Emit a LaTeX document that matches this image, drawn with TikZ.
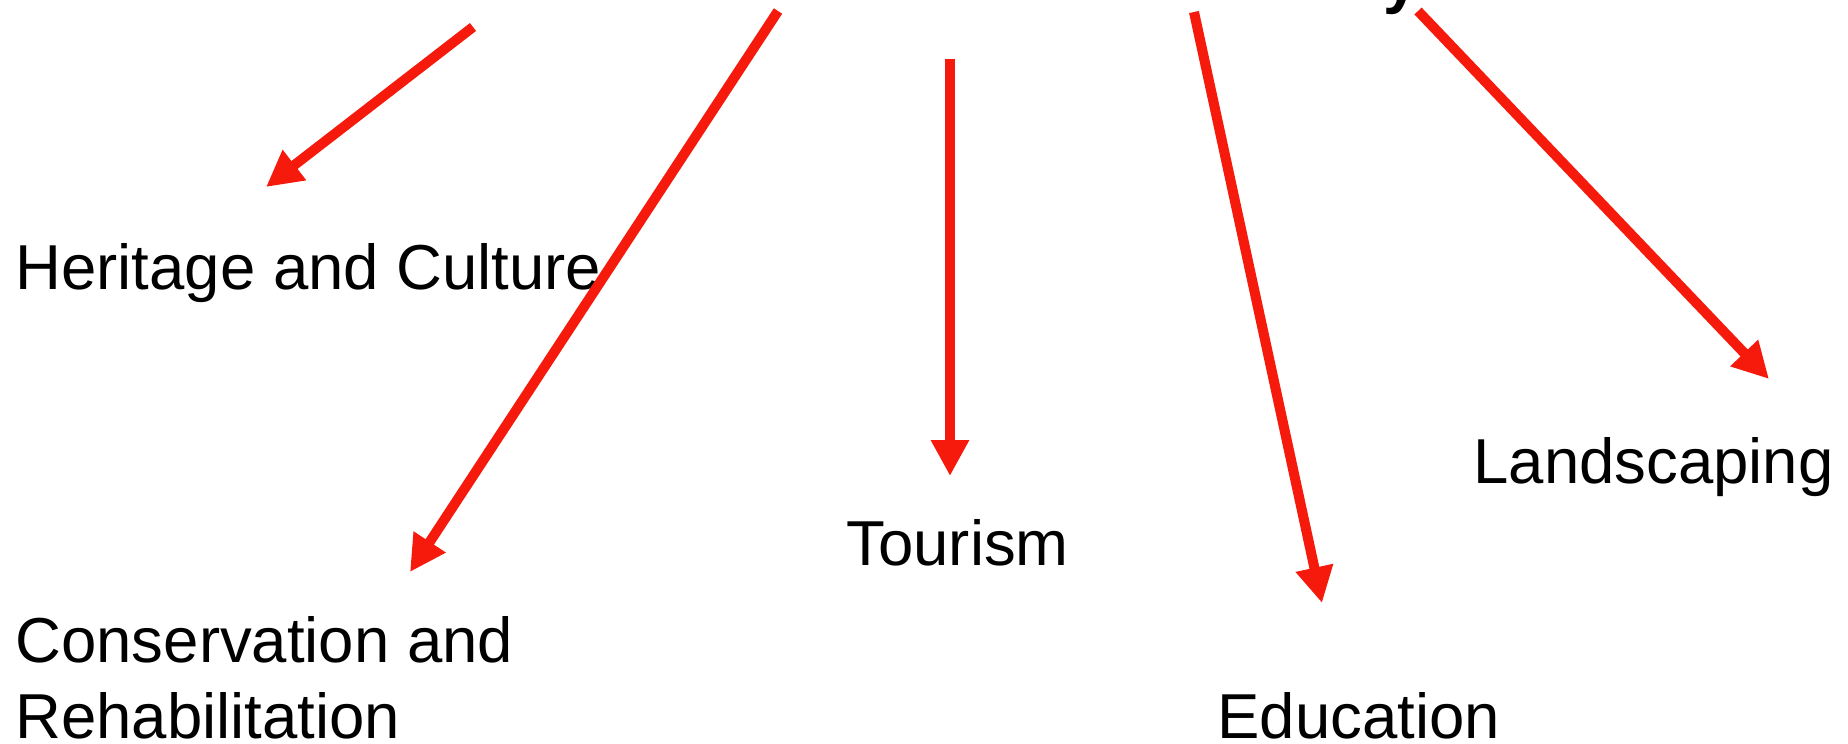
\documentclass[tikz,border=0pt]{standalone}
\usepackage{fontspec}
\setmainfont{Liberation Sans}
\usepackage{tikz}
\usetikzlibrary{arrows.meta, positioning}
\definecolor{linkred}{RGB}{245, 26, 11}

\begin{document}
\begin{tikzpicture}[
        x=0.4pt, y=-0.4pt,
        topic/.style={anchor=base west, inner sep=0pt, align=left, font=\fontsize{25.4pt}{30.4pt}\selectfont},
        heading/.style={anchor=base west, inner sep=0pt, font=\fontsize{25.4pt}{30.4pt}\selectfont\bfseries},
        link/.style={-{Triangle[length=14.4pt, width=14.4pt]}, line width=4pt, draw=linkred}
    ]
        \useasboundingbox (0,0) rectangle (1848,743);
        \clip (0,0) rectangle (1848,743);

        % title sits above the visible area
        \node[heading] (title) at (1383,1) {y};

        \node[topic] (heritage) at (15,289) {Heritage and Culture};
        \node[topic] (conservation) at (15,738) {Conservation and\\Rehabilitation};
        \node[topic] (tourism) at (846,565) {Tourism};
        \node[topic] (education) at (1217,738) {Education};
        \node[topic] (landscaping) at (1473,483) {Landscaping};

        \coordinate (s1) at (473,27);
        \coordinate (s2) at (778,11);
        \coordinate (s3) at (950,59);
        \coordinate (s4) at (1194,12);
        \coordinate (s5) at (1418,11);
        \coordinate (t1) at (266,187);
        \coordinate (t2) at (410,572);
        \coordinate (t3) at (950,476);
        \coordinate (t4) at (1322,603);
        \coordinate (t5) at (1769,379);

        \draw[link] (s1) -- (t1);
        \draw[link] (s2) -- (t2);
        \draw[link] (s3) -- (t3);
        \draw[link] (s4) -- (t4);
        \draw[link] (s5) -- (t5);
    \end{tikzpicture}
\end{document}
